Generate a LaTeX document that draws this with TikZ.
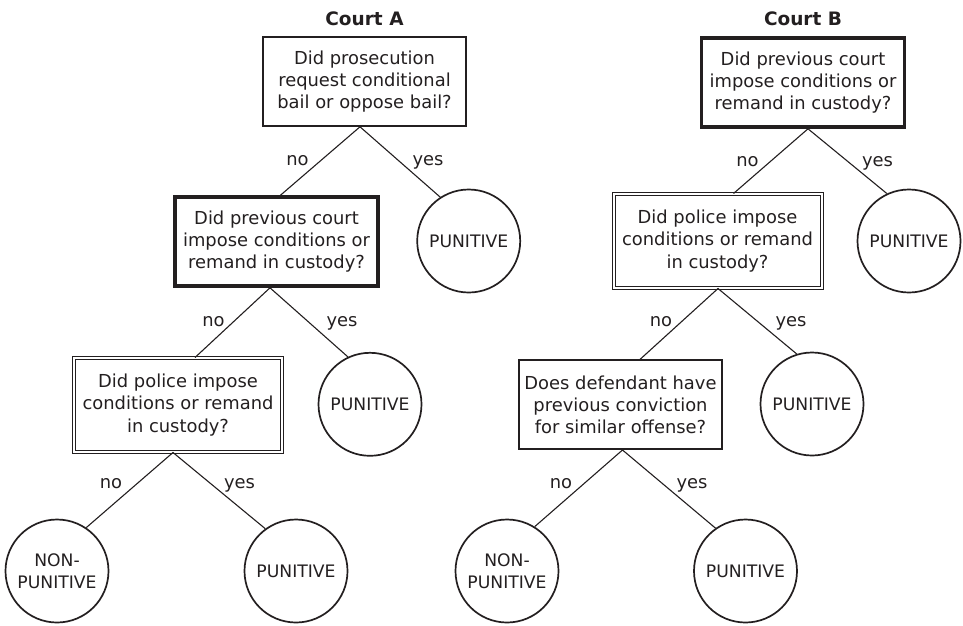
\documentclass[tikz,border=0pt]{standalone}
\usepackage{fontspec}
\setmainfont{DejaVu Sans}
\definecolor{ink}{RGB}{35,31,32}
\begin{document}
\begin{tikzpicture}[x=1pt,y=-1pt,
  every node/.style={text=ink},
  txt/.style={font=\fontsize{17.9}{22.3}\selectfont},
  qbox/.style={txt,draw=ink,rectangle,align=center,minimum width=203pt,minimum height=89pt,inner sep=0pt,line width=1.6pt},
  thickbox/.style={qbox,line width=3.6pt},
  dblbox/.style={qbox,line width=1pt,double=white,double distance=2pt,minimum width=208pt,minimum height=94pt},
  endc/.style={draw=ink,circle,line width=1.7pt,minimum size=103pt,inner sep=0pt,align=center,font=\fontsize{17.2}{21.5}\selectfont},
  lbl/.style={txt,anchor=base,inner sep=0pt},
  title/.style={font=\bfseries\fontsize{18.5}{22}\selectfont,anchor=base,inner sep=0pt},
  conn/.style={draw=ink,line width=1.1pt}]
\useasboundingbox (0,0) rectangle (963,625);

% Court A
\node[title] (tA) at (364.5,25) {Court A};
\node[qbox] (A1) at (364.5,81.5) {Did prosecution\\request conditional\\bail or oppose bail?};
\node[thickbox] (A2) at (276.5,241.5) {Did previous court\\impose conditions or\\remand in custody?};
\node[dblbox] (A3) at (178,405) {Did police impose\\conditions or remand\\in custody?};
\node[endc] (PA1) at (468.7,241) {PUNITIVE};
\node[endc] (PA2) at (370,404.3) {PUNITIVE};
\node[endc] (NA) at (57,571) {NON-\\PUNITIVE};
\node[endc] (PA3) at (296,571) {PUNITIVE};

\draw[conn] ([xshift=4pt]A2.north) -- ([xshift=-4.5pt]A1.south) -- (PA1.123);
\draw[conn] ([xshift=17pt]A3.north) -- ([xshift=-6.5pt]A2.south) -- (PA2.115);
\draw[conn] (NA.56) -- ([xshift=-5pt]A3.south) -- (PA3.126);

\node[lbl] (nA1) at (297.5,165) {no};
\node[lbl] (yA1) at (428,165) {yes};
\node[lbl] (nA2) at (213.5,326) {no};
\node[lbl] (yA2) at (342,326) {yes};
\node[lbl] (nA3) at (111,488) {no};
\node[lbl] (yA3) at (239.5,488) {yes};

% Court B
\node[title] (tB) at (803,25) {Court B};
\node[thickbox] (B1) at (803,82.5) {Did previous court\\impose conditions or\\remand in custody?};
\node[dblbox] (B2) at (717.5,241) {Did police impose\\conditions or remand\\in custody?};
\node[qbox] (B3) at (620.5,404.7) {Does defendant have\\previous conviction\\for similar offense?};
\node[endc] (PB1) at (909,241) {PUNITIVE};
\node[endc] (PB2) at (812,404) {PUNITIVE};
\node[endc] (NB) at (507,571) {NON-\\PUNITIVE};
\node[endc] (PB3) at (745.5,571) {PUNITIVE};

\draw[conn] ([xshift=16pt]B2.north) -- ([xshift=5pt]B1.south) -- (PB1.115);
\draw[conn] ([xshift=19.5pt]B3.north) -- ([xshift=0.5pt]B2.south) -- (PB2.107);
\draw[conn] (NB.58) -- ([xshift=2pt]B3.south) -- (PB3.125);

\node[lbl] (nB1) at (747.5,166) {no};
\node[lbl] (yB1) at (877.5,166) {yes};
\node[lbl] (nB2) at (661,326) {no};
\node[lbl] (yB2) at (791,326) {yes};
\node[lbl] (nB3) at (561,488) {no};
\node[lbl] (yB3) at (692,488) {yes};
\end{tikzpicture}
\end{document}
